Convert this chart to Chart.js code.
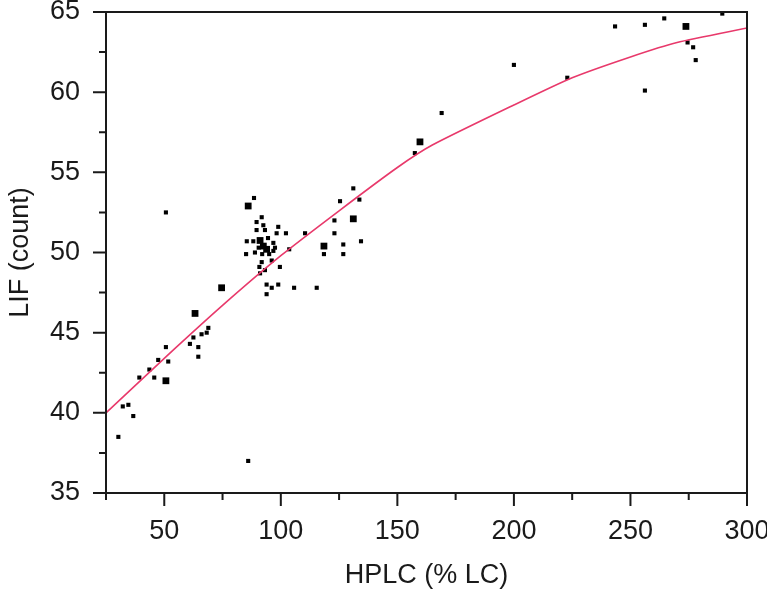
<!DOCTYPE html>
<html>
<head>
<meta charset="utf-8">
<script src="https://cdn.jsdelivr.net/npm/chart.js@4.4.1/dist/chart.umd.min.js"></script>
<style>
  html, body { margin: 0; padding: 0; background: #fff; }
  #wrap { width: 767px; height: 594px; }
</style>
</head>
<body>
<div id="wrap"><canvas id="chart" width="767" height="594"></canvas></div>
<script>
// measured points (HPLC % LC vs LIF count)
const hplc = [30.3, 32.2, 34.6, 36.7, 39.3, 43.6, 45.7, 47.4, 50.7, 51.7, 61.0, 62.5, 64.6, 64.6, 66.0, 68.2, 68.9,
  50.7, 88.5, 91.8, 89.6, 92.5, 89.6, 93.2, 98.9, 98.2, 102.2, 85.4, 88.2, 96.8, 97.5, 85.1, 88.9, 96.8, 103.6,
  91.8, 90.8, 96.1, 99.6, 93.2, 91.1, 93.9, 96.1, 98.9, 93.9, 105.7, 115.4, 110.4, 118.5, 123.0, 123.0, 126.8,
  126.8, 125.4, 131.1, 133.7, 134.4, 157.5, 169.0, 200.0, 222.9, 243.4, 256.2, 256.2, 264.5, 274.5, 276.9,
  278.0, 289.4, 86.0, 90.5, 94.5, 95.0, 92.0];
const lif = [38.5, 40.4, 40.5, 39.8, 42.2, 42.7, 42.2, 43.3, 44.1, 43.2, 44.3, 44.7, 44.1, 43.5, 44.9, 45.0, 45.3,
  52.5, 53.4, 52.2, 51.9, 51.7, 51.4, 51.4, 51.6, 51.2, 51.2, 50.7, 50.7, 50.6, 50.3, 49.9, 50.0, 50.1, 50.2,
  49.4, 49.1, 49.5, 49.1, 48.9, 48.7, 48.0, 47.8, 48.0, 47.4, 47.8, 47.8, 51.2, 49.9, 52.0, 51.2, 50.5,
  49.9, 53.2, 54.0, 53.3, 50.7, 56.2, 58.7, 61.7, 60.9, 64.1, 64.2, 60.1, 64.6, 63.1, 62.8,
  62.0, 64.9, 37.0, 50.3, 50.9, 49.9, 49.9];

// overlapping points (drawn as bigger squares)
const hplcBig = [50.7, 63.2, 74.6, 86.0, 91.1, 92.5, 93.9, 118.5, 131.1, 159.7, 273.8];
const lifBig = [42.0, 46.2, 47.8, 52.9, 50.75, 50.4, 50.2, 50.4, 52.1, 56.9, 64.1];

// fitted curve
const fitX = [25, 50, 75, 100, 125, 150, 165, 200, 225, 250, 270, 300];
const fitY = [40.0, 43.4, 46.7, 49.8, 52.6, 55.3, 56.7, 59.2, 60.9, 62.2, 63.1, 64.0];

const toXY = (xs, ys) => xs.map((x, i) => ({ x: x, y: ys[i] }));

const FONT = '"Liberation Sans", Arial, sans-serif';
const INK = '#1a1a1a';

const frame = {
  id: 'frame',
  afterDraw(chart) {
    const { ctx, chartArea: a, scales } = chart;
    ctx.save();
    ctx.strokeStyle = INK;
    ctx.lineWidth = 2;
    ctx.strokeRect(a.left, a.top, a.right - a.left, a.bottom - a.top);
    ctx.beginPath();
    scales.x.ticks.forEach(t => {
      const px = scales.x.getPixelForValue(t.value);
      const len = t.value % 50 === 0 ? 13 : 7;
      ctx.moveTo(px, a.bottom);
      ctx.lineTo(px, a.bottom + len);
    });
    scales.y.ticks.forEach(t => {
      const py = scales.y.getPixelForValue(t.value);
      const len = t.value % 5 === 0 ? 13 : 7;
      ctx.moveTo(a.left, py);
      ctx.lineTo(a.left - len, py);
    });
    ctx.stroke();
    ctx.restore();
  }
};

new Chart(document.getElementById('chart'), {
  type: 'scatter',
  data: {
    datasets: [
      {
        label: 'fit',
        type: 'line',
        data: toXY(fitX, fitY),
        borderColor: '#e8396b',
        borderWidth: 1.6,
        pointRadius: 0,
        tension: 0.2,
        fill: false
      },
      {
        label: 'samples',
        data: toXY(hplc, lif),
        pointStyle: 'rect',
        pointRadius: 2.9,
        backgroundColor: '#000',
        borderWidth: 0
      },
      {
        label: 'overlap',
        data: toXY(hplcBig, lifBig),
        pointStyle: 'rect',
        pointRadius: 4.8,
        backgroundColor: '#000',
        borderWidth: 0
      }
    ]
  },
  options: {
    responsive: false,
    animation: false,
    layout: { padding: { left: 0, top: 12, right: 20, bottom: 0 } },
    plugins: {
      legend: { display: false },
      tooltip: { enabled: false }
    },
    scales: {
      x: {
        type: 'linear',
        min: 25,
        max: 300,
        grid: { display: false, drawTicks: false },
        border: { display: false },
        ticks: {
          stepSize: 25,
          padding: 22,
          maxRotation: 0,
          autoSkip: false,
          color: INK,
          font: { family: FONT, size: 27 },
          callback: v => (v % 50 === 0 ? String(v) : '')
        },
        title: {
          display: true,
          text: 'HPLC (% LC)',
          color: INK,
          font: { family: FONT, size: 27 },
          padding: { top: 0, bottom: 2 }
        },
        afterFit: s => { s.height = 101; s.paddingLeft = 0; s.paddingRight = 0; }
      },
      y: {
        type: 'linear',
        min: 35,
        max: 65,
        grid: { display: false, drawTicks: false },
        border: { display: false },
        ticks: {
          stepSize: 2.5,
          padding: 26,
          autoSkip: false,
          color: INK,
          font: { family: FONT, size: 27 },
          callback: v => (v % 5 === 0 ? String(v) : '')
        },
        title: {
          display: true,
          text: 'LIF (count)',
          color: INK,
          font: { family: FONT, size: 27 },
          padding: { top: 4, bottom: 0 }
        },
        afterFit: s => { s.width = 106; s.paddingTop = 0; s.paddingBottom = 0; }
      }
    }
  },
  plugins: [frame]
});
</script>
</body>
</html>
